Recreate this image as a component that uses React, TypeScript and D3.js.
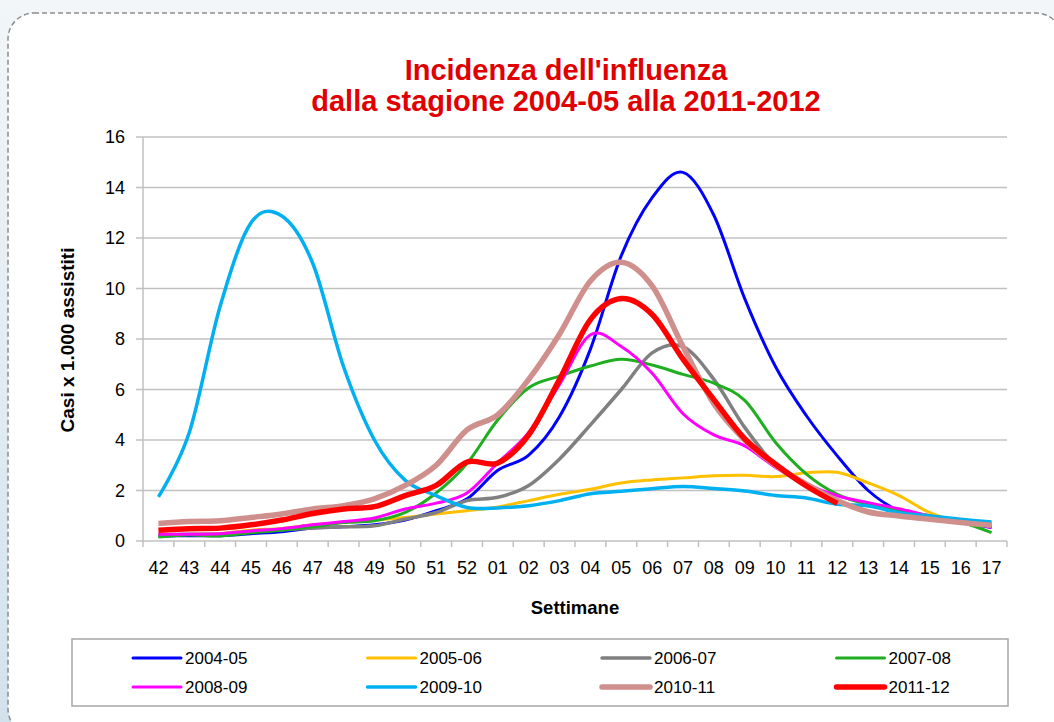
import React from 'react';
import * as d3 from 'd3';

// weeks of the flu season (x categories)
const weeks = [
  '42', '43', '44', '45', '46', '47', '48', '49', '50', '51', '52',
  '01', '02', '03', '04', '05', '06', '07', '08', '09', '10', '11', '12',
  '13', '14', '15', '16', '17',
];

const seasons = ['2004-05', '2005-06', '2006-07', '2007-08', '2008-09', '2009-10', '2010-11', '2011-12'];

// cases per 1000 patients, one array per season
const s2004 = [0.19, 0.21, 0.21, 0.29, 0.37, 0.51, 0.56, 0.64, 0.83, 1.2, 1.67, 2.8, 3.4, 4.93, 7.6, 11.3, 13.6, 14.6, 12.9, 9.6, 6.9, 4.96, 3.37, 2.0, 1.2, 0.93, 0.73, 0.53];
const s2005 = [0.24, 0.27, 0.3, 0.43, 0.5, 0.64, 0.73, 0.83, 0.93, 1.07, 1.2, 1.35, 1.6, 1.85, 2.05, 2.3, 2.42, 2.5, 2.58, 2.6, 2.55, 2.7, 2.72, 2.3, 1.8, 1.12, 0.75, 0.6];
const s2006 = [0.24, 0.27, 0.27, 0.37, 0.45, 0.51, 0.56, 0.6, 0.87, 1.13, 1.6, 1.73, 2.2, 3.25, 4.6, 6.0, 7.45, 7.7, 6.4, 4.5, 3.0, 2.18, 1.59, 1.19, 1.0, 0.93, 0.82, 0.66];
const s2007 = [0.16, 0.24, 0.2, 0.33, 0.43, 0.56, 0.73, 0.8, 1.13, 1.9, 3.07, 4.8, 6.07, 6.53, 6.93, 7.2, 6.97, 6.6, 6.25, 5.57, 3.9, 2.65, 1.85, 1.45, 1.23, 1.0, 0.75, 0.33];
const s2008 = [0.27, 0.27, 0.29, 0.4, 0.49, 0.64, 0.77, 0.91, 1.27, 1.5, 1.9, 3.1, 4.3, 6.2, 8.17, 7.7, 6.64, 5.04, 4.2, 3.77, 2.91, 2.25, 1.79, 1.52, 1.28, 0.99, 0.8, 0.53];
const s2009 = [1.75, 4.3, 9.3, 12.6, 12.87, 11.0, 6.9, 4.0, 2.4, 1.8, 1.33, 1.31, 1.4, 1.6, 1.87, 1.97, 2.07, 2.16, 2.08, 1.98, 1.8, 1.7, 1.45, 1.39, 1.12, 0.99, 0.86, 0.75];
const s2010 = [0.69, 0.77, 0.8, 0.93, 1.07, 1.27, 1.4, 1.67, 2.2, 3.0, 4.4, 5.0, 6.4, 8.2, 10.3, 11.04, 10.1, 7.7, 5.44, 4.0, 3.0, 2.25, 1.6, 1.15, 0.99, 0.86, 0.73, 0.62];
const s2011 = [0.43, 0.49, 0.51, 0.64, 0.83, 1.09, 1.27, 1.36, 1.8, 2.2, 3.13, 3.09, 4.2, 6.4, 8.77, 9.6, 8.97, 7.2, 5.6, 4.05, 3.04, 2.18, 1.49];

const seriesValues = [s2004, s2005, s2006, s2007, s2008, s2009, s2010, s2011];
const colors = ['#0000ff', '#ffc000', '#808080', '#1fae1f', '#ff00ff', '#00b0f0', '#cf8f8c', '#ff0000'];
const strokeW = [3, 3, 3.5, 3, 3, 3.5, 5.5, 5.5];

const yTicks = [0, 2, 4, 6, 8, 10, 12, 14, 16];

const font = "'Liberation Sans', Arial, sans-serif";

const W = 1054;
const H = 722;
const plotLeft = 143;
const plotRight = 1007;
const plotTop = 137;
const plotBottom = 541;

export default function App() {
  const x = d3.scaleBand().domain(weeks).range([plotLeft, plotRight]);
  const y = d3.scaleLinear().domain([0, 16]).range([plotBottom, plotTop]);
  const cx = (i: number) => (x(weeks[i]) as number) + x.bandwidth() / 2;

  // Excel-style smoothing ~ uniform Catmull-Rom
  const line = d3
    .line<number>()
    .x((_, i) => cx(i))
    .y((d) => y(d))
    .curve(d3.curveCatmullRom.alpha(0));

  const tickEdges = weeks.map((w) => x(w) as number).concat([plotRight]);

  // legend layout
  const legLeft = 72;
  const legTop = 639;
  const legW = 936;
  const legH = 67;
  const colStep = 234.5;
  const rowYs = [658, 687];

  return (
    <svg
      width={W}
      height={H}
      style={{ position: 'absolute', left: 0, top: 0, display: 'block' }}
    >
      <defs>
        <linearGradient id="bg" x1="0" y1="0" x2="0" y2="1">
          <stop offset="0%" stopColor="#f2f6f9" />
          <stop offset="100%" stopColor="#d2e2ed" />
        </linearGradient>
      </defs>
      <rect x={0} y={0} width={W} height={H} fill="url(#bg)" />
      <rect
        x={8}
        y={13}
        width={1054}
        height={722}
        rx={26}
        ry={26}
        fill="#ffffff"
        stroke="#8c8c8c"
        strokeWidth={1.5}
        strokeDasharray="5,3"
      />

      {/* title */}
      <text x={566} y={80} textAnchor="middle" fontFamily={font} fontWeight="bold" fontSize={29} fill="#e10000">
        Incidenza dell'influenza
      </text>
      <text x={566} y={111} textAnchor="middle" fontFamily={font} fontWeight="bold" fontSize={29} fill="#e10000">
        dalla stagione 2004-05 alla 2011-2012
      </text>

      {/* grid + y axis */}
      {yTicks.map((t) => (
        <g key={t}>
          <line x1={plotLeft - 7} x2={plotRight} y1={y(t)} y2={y(t)} stroke="#c0c0c0" strokeWidth={1.5} />
          <text x={125} y={y(t)} dy="0.35em" textAnchor="end" fontFamily={font} fontSize={18} fill="#000">
            {t}
          </text>
        </g>
      ))}
      <line x1={plotLeft} x2={plotLeft} y1={plotTop} y2={plotBottom} stroke="#c0c0c0" strokeWidth={1.5} />

      {/* x axis */}
      {tickEdges.map((e, i) => (
        <line key={i} x1={e} x2={e} y1={plotBottom} y2={plotBottom + 6} stroke="#c0c0c0" strokeWidth={1.5} />
      ))}
      {weeks.map((w, i) => (
        <text key={w} x={cx(i)} y={574} textAnchor="middle" fontFamily={font} fontSize={18} fill="#000">
          {w}
        </text>
      ))}

      <text x={575} y={614} textAnchor="middle" fontFamily={font} fontWeight="bold" fontSize={18.5}>
        Settimane
      </text>
      <text
        transform={`translate(74, 340) rotate(-90)`}
        textAnchor="middle"
        fontFamily={font}
        fontWeight="bold"
        fontSize={19}
      >
        Casi x 1.000 assistiti
      </text>

      {/* series */}
      {seriesValues.map((vals, k) => (
        <path
          key={seasons[k]}
          d={line(vals) as string}
          fill="none"
          stroke={colors[k]}
          strokeWidth={strokeW[k]}
          strokeLinejoin="round"
        />
      ))}

      {/* legend */}
      <rect x={legLeft} y={legTop} width={legW} height={legH} fill="#fff" stroke="#a6a6a6" strokeWidth={1.5} />
      {seasons.map((s, k) => {
        const col = k % 4;
        const row = Math.floor(k / 4);
        const sx = 133 + col * colStep;
        const sy = rowYs[row];
        return (
          <g key={s}>
            <line
              x1={sx}
              x2={sx + 48}
              y1={sy}
              y2={sy}
              stroke={colors[k]}
              strokeWidth={strokeW[k]}
              strokeLinecap="round"
            />
            <text x={sx + 52} y={sy} dy="0.35em" fontFamily={font} fontSize={17} fill="#000">
              {s}
            </text>
          </g>
        );
      })}
    </svg>
  );
}
